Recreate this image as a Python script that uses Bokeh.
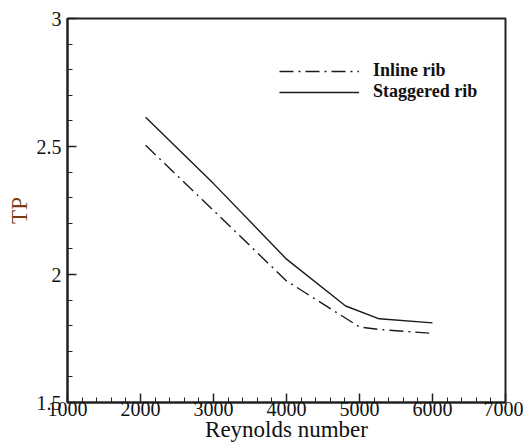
from bokeh.plotting import figure
from bokeh.models import Range1d, SingleIntervalTicker, CustomJSTickFormatter, Legend, LegendItem
from bokeh.embed import file_html
from bokeh.resources import INLINE

# Data
reynolds_inline = [2070, 3000, 4000, 5000, 5270, 6000]
tp_inline = [2.505, 2.25, 1.975, 1.795, 1.785, 1.77]
reynolds_staggered = [2070, 3000, 4000, 4810, 5270, 6000]
tp_staggered = [2.614, 2.355, 2.06, 1.877, 1.827, 1.811]
series_labels = ["Inline rib", "Staggered rib"]
x_title = "Reynolds number"
y_title = "TP"

FONT = "Liberation Serif"

p = figure(frame_width=438, frame_height=384, output_backend="svg", toolbar_location=None,
           x_range=Range1d(1000, 7000), y_range=Range1d(1.5, 3.0),
           min_border_left=67, min_border_top=18, min_border_right=18, min_border_bottom=0)
p.background_fill_color = "white"
p.border_fill_color = "white"
p.xgrid.visible = False
p.ygrid.visible = False
p.outline_line_color = "#222222"
p.outline_line_width = 2

r1 = p.line(reynolds_inline, tp_inline, line_color="#1a1a1a", line_width=1.4, line_dash="14 5 2 5")
r2 = p.line(reynolds_staggered, tp_staggered, line_color="#1a1a1a", line_width=1.4)

p.xaxis.ticker = SingleIntervalTicker(interval=1000, num_minor_ticks=5)
p.yaxis.ticker = SingleIntervalTicker(interval=0.5, num_minor_ticks=5)
p.yaxis.formatter = CustomJSTickFormatter(code="return String(Math.round(tick*10)/10);")

for ax in (p.xaxis[0], p.yaxis[0]):
    ax.axis_line_width = 2
    ax.axis_line_color = "#222222"
    ax.major_tick_in = 9
    ax.major_tick_out = 0
    ax.minor_tick_in = 5
    ax.minor_tick_out = 0
    ax.major_tick_line_color = "#222222"
    ax.minor_tick_line_color = "#222222"
    ax.major_tick_line_width = 1.5
    ax.minor_tick_line_width = 1
    ax.major_label_text_font = FONT
    ax.major_label_text_font_size = "20px"
    ax.major_label_text_color = "#111111"
    ax.axis_label_text_font = FONT
    ax.axis_label_text_font_style = "normal"
    ax.axis_label_text_font_size = "23px"

p.xaxis.axis_label = x_title
p.xaxis.axis_label_text_color = "#111111"
p.xaxis.major_label_standoff = -1
p.xaxis.axis_label_standoff = -2
p.yaxis.axis_label = y_title
p.yaxis.axis_label_text_color = "#7a3a12"
p.yaxis.major_label_standoff = 6
p.yaxis.axis_label_standoff = 2

legend = Legend(items=[LegendItem(label=series_labels[0], renderers=[r1]),
                       LegendItem(label=series_labels[1], renderers=[r2])],
                location=(212, 300))
legend.border_line_color = None
legend.background_fill_alpha = 0
legend.padding = 0
legend.margin = 0
legend.spacing = 0
legend.glyph_width = 80
legend.glyph_height = 20
legend.label_height = 20
legend.label_standoff = 14
legend.label_text_font = FONT
legend.label_text_font_style = "bold"
legend.label_text_font_size = "18px"
legend.label_text_color = "#111111"
p.add_layout(legend, "center")

open("out.html", "w").write(file_html(p, INLINE))
